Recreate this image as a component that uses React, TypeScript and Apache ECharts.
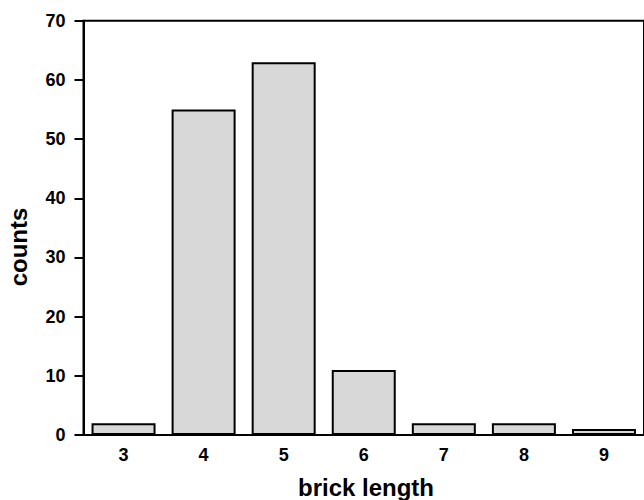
import React, { useEffect, useRef } from "react";
import * as echarts from "echarts";

const categories: string[] = ["3", "4", "5", "6", "7", "8", "9"];
const counts: number[] = [2, 55, 63, 11, 2, 2, 1];
const yTicks = { min: 0, max: 70, interval: 10 };
const xAxisName = "brick length";
const yAxisName = "counts";

const FONT = "'Liberation Sans', Arial, Helvetica, sans-serif";

export default function App() {
  const ref = useRef<HTMLDivElement>(null);
  useEffect(() => {
    if (!ref.current) return;
    const chart = echarts.init(ref.current, undefined, { renderer: "svg" });
    chart.setOption({
      animation: false,
      backgroundColor: "#ffffff",
      grid: {
        left: 83.5,
        top: 20.7,
        width: 565,
        height: 414.3,
        show: true,
        borderColor: "#000",
        borderWidth: 2,
        backgroundColor: "transparent",
      },
      xAxis: {
        type: "category",
        data: categories,
        boundaryGap: true,
        axisLine: { show: true, lineStyle: { color: "#000", width: 2 } },
        axisTick: { show: false },
        axisLabel: {
          color: "#000",
          fontFamily: FONT,
          fontWeight: "bold",
          fontSize: 18,
          margin: 11,
        },
        splitLine: { show: false },
      },
      yAxis: {
        type: "value",
        min: yTicks.min,
        max: yTicks.max,
        interval: yTicks.interval,
        axisLine: { show: true, lineStyle: { color: "#000", width: 2 } },
        axisTick: { show: true, inside: false, length: 9, lineStyle: { color: "#000", width: 2 } },
        axisLabel: {
          color: "#000",
          fontFamily: FONT,
          fontWeight: "bold",
          fontSize: 18,
          margin: 18,
        },
        splitLine: { show: false },
      },
      graphic: [
        {
          type: "text",
          x: 366,
          y: 487,
          style: {
            text: xAxisName,
            fill: "#000",
            font: `bold 24px ${FONT}`,
            textAlign: "center",
            textVerticalAlign: "middle",
          },
        },
        {
          type: "text",
          x: 18.5,
          y: 247,
          rotation: Math.PI / 2,
          style: {
            text: yAxisName,
            fill: "#000",
            font: `bold 24px ${FONT}`,
            textAlign: "center",
            textVerticalAlign: "middle",
          },
        },
      ],
      series: [
        {
          type: "bar",
          data: counts,
          barWidth: 64,
          itemStyle: { color: "#d8d8d8", borderColor: "#000", borderWidth: 2 },
        },
      ],
    });
    return () => chart.dispose();
  }, []);
  return (
    <div
      ref={ref}
      style={{ position: "fixed", left: 0, top: 0, width: 644, height: 500 }}
    />
  );
}
